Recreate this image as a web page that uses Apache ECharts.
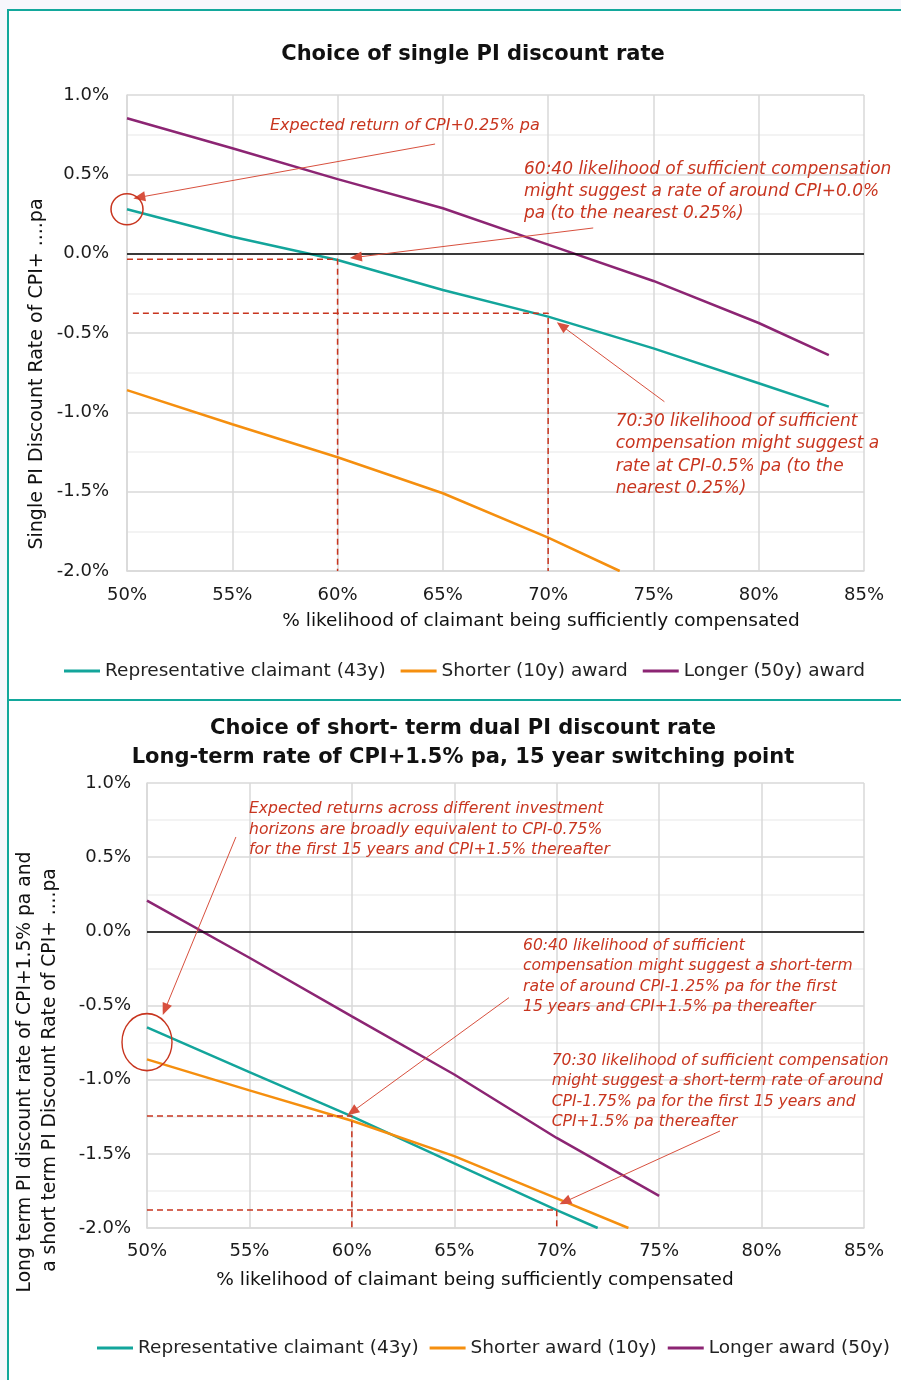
<!DOCTYPE html>
<html>
<head>
<meta charset="utf-8">
<script src="https://cdn.jsdelivr.net/npm/echarts@6/dist/echarts.min.js"></script>
<style>
html, body { margin: 0; padding: 0; background: #f7f7fc; }
#c { width: 901px; height: 1380px; }
</style>
</head>
<body>
<div id="c"></div>
<script>
// ---------- DATA ----------
const topNames = ['Representative claimant (43y)', 'Shorter (10y) award', 'Longer (50y) award'];
const botNames = ['Representative claimant (43y)', 'Shorter award (10y)', 'Longer award (50y)'];

const xTickLabels = [50, 55, 60, 65, 70, 75, 80, 85];       // % likelihood
const yTickLabels = [1.0, 0.5, 0.0, -0.5, -1.0, -1.5, -2.0]; // % pa

// Top chart: single PI discount rate
const topX      = [50, 55, 60, 65, 70, 75, 80, 83.33];
const topRep    = [0.28, 0.107, -0.04, -0.229, -0.397, -0.597, -0.817, -0.964];
const topLong   = [0.853, 0.664, 0.47, 0.286, 0.057, -0.172, -0.437, -0.639];
const topShortX = [50, 55, 60, 65, 70, 73.4];
const topShort  = [-0.86, -1.075, -1.283, -1.51, -1.79, -2.0];

// Bottom chart: short-term dual PI discount rate
const botRepX   = [50, 55, 60, 65, 70, 72];
const botRep    = [-0.647, -0.949, -1.247, -1.565, -1.88, -2.0];
const botShortX = [50, 55, 60, 65, 70, 73.5];
const botShort  = [-0.863, -1.072, -1.277, -1.515, -1.80, -2.0];
const botLongX  = [50, 55, 60, 65, 70, 75];
const botLong   = [0.207, -0.178, -0.573, -0.965, -1.393, -1.784];

// Dashed guide lines (x %, y %)
const topGuide60 = [[50, -0.035], [60, -0.035], [60, -2]];
const topGuide70 = [[50.28, -0.376], [70, -0.376], [70, -2]];
const botGuide60 = [[50, -1.245], [60, -1.245], [60, -2]];
const botGuide70 = [[50, -1.878], [70, -1.878], [70, -2]];

// Annotation arrows (from -> to, data coords)
const topArrows = [[[64.63, 0.691], [50.58, 0.355]], [[72.14, 0.162], [60.87, -0.023]], [[75.52, -0.933], [70.64, -0.454]]];
const botArrows = [[[54.34, 0.636], [50.88, -0.526]], [[67.67, -0.447], [60.02, -1.216]], [[77.97, -1.346], [70.40, -1.823]]];
const topCircle = [50, 0.28];
const botCircle = [50, -0.747];

// Annotation texts
const topNote1 = 'Expected return of CPI+0.25% pa';
const topNote2 = ['60:40 likelihood of sufficient compensation', 'might suggest a rate of around CPI+0.0%', 'pa (to the nearest 0.25%)'];
const topNote3 = ['70:30 likelihood of sufficient', 'compensation might suggest a', 'rate at CPI-0.5% pa (to the', 'nearest 0.25%)'];
const botNote1 = ['Expected returns across different investment', 'horizons are broadly equivalent to CPI-0.75%', 'for the first 15 years and CPI+1.5% thereafter'];
const botNote2 = ['60:40 likelihood of sufficient', 'compensation might suggest a short-term', 'rate of around CPI-1.25% pa for the first', '15 years and CPI+1.5% pa thereafter'];
const botNote3 = ['70:30 likelihood of sufficient compensation', 'might suggest a short-term rate of around', 'CPI-1.75% pa for the first 15 years and', 'CPI+1.5% pa thereafter'];

const topTitle = 'Choice of single PI discount rate';
const botTitle = ['Choice of short- term dual PI discount rate', 'Long-term rate of CPI+1.5% pa, 15 year switching point'];
const topYName = 'Single PI Discount Rate of CPI+ ....pa';
const botYName = ['Long term PI discount rate of CPI+1.5% pa and', 'a short term PI Discount Rate of CPI+ ....pa'];
const xName = '% likelihood of claimant being sufficiently compensated';

// ---------- STYLE ----------
const FONT = 'DejaVu Sans';
const TEAL = '#13a59b', ORANGE = '#f58f0f', PURPLE = '#8c2573', RED = '#c8351f';
const zip = (xs, ys) => xs.map((x, i) => [x, ys[i]]);

function xAxis(gi) {
  return {
    type: 'value', gridIndex: gi,
    min: xTickLabels[0], max: xTickLabels[xTickLabels.length - 1], interval: 5,
    axisLine: { show: true, onZero: false, lineStyle: { color: '#d9d9d9', width: 1.5 } },
    axisTick: { show: false },
    splitLine: { show: true, lineStyle: { color: '#d9d9d9', width: 1.5 } },
    axisLabel: { margin: gi === 0 ? 15 : 14, fontFamily: FONT, fontSize: 18, color: '#1a1a1a', formatter: v => v + '%' }
  };
}
function yAxis(gi) {
  return {
    type: 'value', gridIndex: gi,
    min: yTickLabels[yTickLabels.length - 1], max: yTickLabels[0], interval: 0.5,
    axisLine: { show: true, lineStyle: { color: '#d9d9d9', width: 1.5 } },
    axisTick: { show: false },
    minorTick: { show: false, splitNumber: 2 },
    minorSplitLine: { show: true, lineStyle: { color: '#efefef', width: 1.5 } },
    splitLine: { show: true, lineStyle: { color: '#d9d9d9', width: 1.5 } },
    axisLabel: { margin: gi === 0 ? 18 : 16, fontFamily: FONT, fontSize: 18, color: '#1a1a1a', formatter: v => v.toFixed(1) + '%' }
  };
}
function mainLine(name, data, color, gi, extra) {
  return Object.assign({
    type: 'line', name, data, xAxisIndex: gi, yAxisIndex: gi,
    showSymbol: false, symbol: 'none', smooth: false, animation: false,
    lineStyle: { color, width: 2.5 }, itemStyle: { color }, z: 3
  }, extra || {});
}
function guide(data, gi, extra) {
  return Object.assign({
    type: 'line', name: 'guide', data, xAxisIndex: gi, yAxisIndex: gi,
    showSymbol: false, symbol: 'none', animation: false, clip: false, silent: true,
    lineStyle: { color: RED, width: 1.5, type: [6, 4] }, itemStyle: { color: RED }, z: 4
  }, extra || {});
}
function arrows(list, circle, circleSize) {
  return {
    markLine: {
      silent: true, animation: false,
      symbol: ['none', 'triangle'], symbolSize: [10, 12],
      lineStyle: { color: '#d8503e', width: 1, type: 'solid' },
      label: { show: false },
      data: list.map(a => [{ coord: a[0] }, { coord: a[1] }])
    },
    markPoint: {
      silent: true, animation: false,
      symbol: 'circle', symbolSize: circleSize,
      itemStyle: { color: 'rgba(0,0,0,0)', borderColor: RED, borderWidth: 1.5 },
      label: { show: false },
      data: [{ coord: circle }]
    }
  };
}
const zeroLine = {
  markLine: {
    silent: true, animation: false, symbol: ['none', 'none'],
    lineStyle: { color: '#000', width: 1.5, type: 'solid' },
    label: { show: false },
    data: [{ yAxis: 0 }]
  }
};

function label(x, y, text, font, rot) {
  return {
    type: 'text', x, y, rotation: rot || 0, silent: true, z: 100,
    style: { text, font, fill: '#111', textAlign: 'center', textVerticalAlign: 'middle' }
  };
}
function note(x, yFirst, lines, size, lh) {
  return {
    type: 'text', x, y: yFirst - lh / 2, silent: true, z: 100,
    style: { text: lines.join('\n'), font: 'italic ' + size + 'px "' + FONT + '"', fill: RED, lineHeight: lh, textAlign: 'left', textVerticalAlign: 'top' }
  };
}
const legendText = { fontFamily: FONT, fontSize: 18.5, color: '#222', lineHeight: 22 };

const chart = echarts.init(document.getElementById('c'), null, { renderer: 'canvas' });
chart.setOption({
  backgroundColor: '#f7f7fc',
  animation: false,
  grid: [
    { left: 127, right: 37, top: 95, height: 476 },
    { left: 147, right: 37, top: 783, height: 445 }
  ],
  xAxis: [xAxis(0), xAxis(1)],
  yAxis: [yAxis(0), yAxis(1)],
  legend: [
    { data: topNames, left: 64, top: 660, width: 830, padding: 0, icon: 'rect', itemWidth: 36, itemHeight: 3, itemGap: 15, selectedMode: false, textStyle: legendText },
    { data: botNames, left: 97, top: 1337, width: 800, padding: 0, icon: 'rect', itemWidth: 36, itemHeight: 3, itemGap: 11, selectedMode: false, textStyle: legendText }
  ],
  series: [
    mainLine(topNames[0], zip(topX, topRep), TEAL, 0, zeroLine),
    mainLine(topNames[1], zip(topShortX, topShort), ORANGE, 0),
    mainLine(topNames[2], zip(topX, topLong), PURPLE, 0),
    guide(topGuide60, 0, arrows(topArrows, topCircle, [32, 31])),
    guide(topGuide70, 0),
    mainLine(botNames[0], zip(botRepX, botRep), TEAL, 1, zeroLine),
    mainLine(botNames[1], zip(botShortX, botShort), ORANGE, 1),
    mainLine(botNames[2], zip(botLongX, botLong), PURPLE, 1),
    guide(botGuide60, 1, arrows(botArrows, botCircle, [50, 57])),
    guide(botGuide70, 1)
  ],
  graphic: [
    { type: 'rect', z: -10, silent: true, shape: { x: 8, y: 10, width: 900, height: 690 }, style: { fill: '#fff', stroke: '#13a89c', lineWidth: 2 } },
    { type: 'rect', z: -10, silent: true, shape: { x: 8, y: 700, width: 900, height: 690 }, style: { fill: '#fff', stroke: '#13a89c', lineWidth: 2 } },
    label(473, 55, topTitle, 'bold 21px "' + FONT + '"'),
    label(463, 729, botTitle[0], 'bold 21px "' + FONT + '"'),
    label(463, 758, botTitle[1], 'bold 21px "' + FONT + '"'),
    label(37, 374, topYName, '19px "' + FONT + '"', Math.PI / 2),
    label(25, 1072, botYName[0], '18.7px "' + FONT + '"', Math.PI / 2),
    label(50, 1070, botYName[1], '18.7px "' + FONT + '"', Math.PI / 2),
    label(541, 621, xName, '18.5px "' + FONT + '"'),
    label(475, 1280, xName, '18.5px "' + FONT + '"'),
    note(270, 126, [topNote1], 16, 22.3),
    note(524, 169.3, topNote2, 17, 22.3),
    note(615.7, 421.7, topNote3, 17, 22.3),
    note(249, 809.3, botNote1, 15.6, 20.3),
    note(523, 946, botNote2, 15.6, 20.3),
    note(551.7, 1061, botNote3, 15.6, 20.3)
  ]
});
</script>
</body>
</html>
